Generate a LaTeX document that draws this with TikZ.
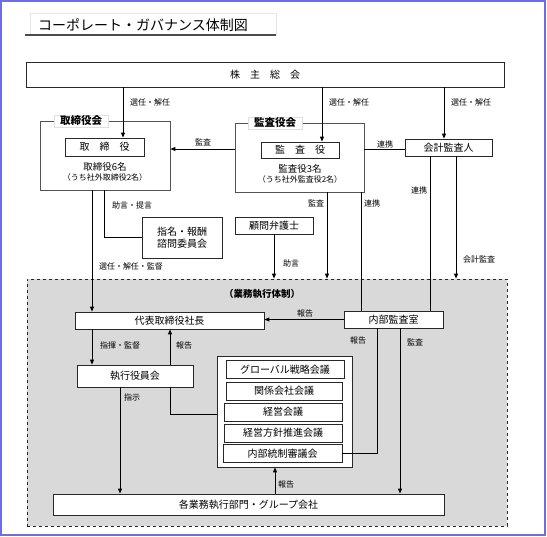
\documentclass[tikz,border=0pt]{standalone}
\usepackage{fontspec}
\setmainfont{Noto Sans CJK JP}
\usetikzlibrary{arrows.meta}
\definecolor{framec}{RGB}{110,110,225}
\definecolor{areac}{RGB}{217,217,217}
\definecolor{linec}{RGB}{40,40,40}
\begin{document}
\begin{tikzpicture}[x=1pt,y=-1pt,
  bx/.style={draw=linec,line width=0.8pt,fill=white,inner sep=0pt,font=\fontsize{10}{12}\selectfont},
  grp/.style={draw=linec!80,line width=0.8pt,fill=white,inner sep=0pt},
  glabel/.style={fill=white,draw=gray!25,line width=0.4pt,inner xsep=6pt,inner ysep=1pt,font=\fontsize{10.5}{12}\selectfont\bfseries},
  lbl/.style={inner sep=0pt,font=\fontsize{8}{9}\selectfont},
  txt/.style={inner sep=0pt},
  ln/.style={draw=black,line width=0.9pt},
  arr/.style={ln,-{Triangle[length=5pt,width=4pt]}}]
\useasboundingbox (0,0) rectangle (547,537);
\draw[framec,line width=1.5pt] (1,1) rectangle (545,535);
% title
\node[draw=gray!20,line width=0.5pt,minimum width=246pt,minimum height=22pt,inner sep=0pt] (titlebox) at (153,24) {};
\node[txt,anchor=west,font=\fontsize{14}{16}\selectfont] (title) at (38,25) {コーポレート・ガバナンス体制図};
\draw[gray!60!black,line width=2pt] (25,35) -- (276,35);
% shareholders
\node[bx,minimum width=478pt,minimum height=25pt] (kabu) at (265,74.5) {株　主　総　会};
% board of directors group
\node[grp,minimum width=130pt,minimum height=69pt] (torig) at (105,155.5) {};
\node[glabel] (torigl) at (81,121) {取締役会};
\node[bx,minimum width=79pt,minimum height=18pt] (tori) at (104.5,147) {取　締　役};
\node[txt,font=\fontsize{9.5}{11}\selectfont] (torin) at (105,167) {取締役6名};
\node[txt,font=\fontsize{8}{9}\selectfont] (torio) at (105,177.5) {（うち社外取締役2名）};
% audit board group
\node[grp,minimum width=129pt,minimum height=69pt] (kansag) at (299.5,157.5) {};
\node[glabel] (kansagl) at (275,123) {監査役会};
\node[bx,minimum width=78pt,minimum height=16pt] (kansa) at (300,150) {監　査　役};
\node[txt,font=\fontsize{9.5}{11}\selectfont] (kansan) at (300,168.5) {監査役3名};
\node[txt,font=\fontsize{8}{9}\selectfont] (kansao) at (300,179.5) {（うち社外監査役2名）};
% accounting auditor
\node[bx,minimum width=87pt,minimum height=17pt] (kaikei) at (448.5,147.5) {会計監査人};
% nomination committee, lawyer
\node[bx,minimum width=80pt,minimum height=41pt,align=center,font=\fontsize{10}{12.5}\selectfont] (shimei) at (182,237.5) {指名・報酬\\諮問委員会};
\node[bx,minimum width=78pt,minimum height=17pt] (komon) at (274,225.5) {顧問弁護士};
% execution area
\node[draw=linec,dashed,line width=0.8pt,fill=areac,minimum width=480pt,minimum height=247pt,inner sep=0pt] (area) at (267,402.5) {};
\node[txt,font=\fontsize{9.5}{11}\selectfont\bfseries] (areal) at (262,293.5) {（業務執行体制）};
\node[bx,minimum width=189pt,minimum height=17pt] (daihyo) at (169.5,320.5) {代表取締役社長};
\node[bx,minimum width=99pt,minimum height=17pt] (naibu) at (393.5,319.5) {内部監査室};
\node[bx,minimum width=116pt,minimum height=22pt] (shikko) at (135,376) {執行役員会};
\node[grp,draw=linec,minimum width=135pt,minimum height=111pt] (meet) at (284.5,411.5) {};
\node[bx,minimum width=118pt,minimum height=17.5pt] (m1) at (285,369.5) {グローバル戦略会議};
\node[bx,minimum width=116pt,minimum height=18pt] (m2) at (284,391) {関係会社会議};
\node[bx,minimum width=118pt,minimum height=18pt] (m3) at (283,412) {経営会議};
\node[bx,minimum width=118pt,minimum height=18pt] (m4) at (283,433) {経営方針推進会議};
\node[bx,minimum width=119pt,minimum height=18pt] (m5) at (282.5,453.5) {内部統制審議会};
\node[bx,minimum width=391pt,minimum height=21pt] (kaku) at (248.5,504.5) {各業務執行部門・グループ会社};
% connectors from shareholders
\draw[arr] (123,0 |- kabu.south) -- (123,0 |- tori.north);
\draw[arr] (322,0 |- kabu.south) -- (322,0 |- kansa.north);
\draw[arr] (444,0 |- kabu.south) -- (444,0 |- kaikei.north);
\node[lbl] (l1) at (150,102) {選任・解任};
\node[lbl] (l2) at (349,102) {選任・解任};
\node[lbl] (l3) at (471,102) {選任・解任};
% audit and cooperation
\draw[arr] (kansag.west |- 0,149) -- (torig.east |- 0,149);
\node[lbl] (l4) at (203,142) {監査};
\draw[ln] (kansag.east |- 0,149) -- (kaikei.west |- 0,149);
\node[lbl] (l5) at (385,144) {連携};
\draw[ln] (430,0 |- kaikei.south) -- (430,0 |- naibu.north);
\node[lbl] (l6) at (419,190) {連携};
\draw[arr] (456,0 |- kaikei.south) -- (456,0 |- area.north);
\node[lbl] (l7) at (479,259) {会計監査};
\draw[arr] (327,0 |- kansag.south) -- (327,0 |- area.north);
\node[lbl] (l8) at (316,203) {監査};
\draw[ln] (361,0 |- kansag.south) -- (361,0 |- naibu.north);
\node[lbl] (l9) at (372,203) {連携};
% board to committee and president
\draw[ln] (104,0 |- torig.south) |- (shimei.west |- 0,237);
\node[lbl] (l10) at (132,205) {助言・提言};
\draw[arr] (92,0 |- torig.south) -- (92,0 |- daihyo.north);
\node[lbl] (l11) at (131,266) {選任・解任・監督};
\draw[arr] (komon.south) -- (274,0 |- area.north);
\node[lbl] (l12) at (291,263) {助言};
% execution area connectors
\draw[arr] (naibu.west) -- (daihyo.east |- naibu.west);
\node[lbl] (l13) at (305,313.5) {報告};
\draw[arr] (92,0 |- daihyo.south) -- (92,0 |- shikko.north);
\node[lbl] (l14) at (120,345) {指揮・監督};
\draw[ln] (meet.west |- 0,414) -- (170,414) -- (170,0 |- shikko.south);
\draw[arr] (170,0 |- shikko.north) -- (170,0 |- daihyo.south);
\node[lbl] (l15) at (184,345) {報告};
\draw[arr] (120,0 |- shikko.south) -- (120,0 |- kaku.north);
\node[lbl] (l16) at (132,397) {指示};
\draw[ln] (377,0 |- naibu.south) |- (m5.east |- 0,453);
\node[lbl] (l17) at (358,340) {報告};
\draw[arr] (400,0 |- naibu.south) -- (400,0 |- kaku.north);
\node[lbl] (l18) at (415,342) {監査};
\draw[arr] (275,0 |- kaku.north) -- (275,0 |- meet.south);
\node[lbl] (l19) at (286,484) {報告};
\end{tikzpicture}
\end{document}
